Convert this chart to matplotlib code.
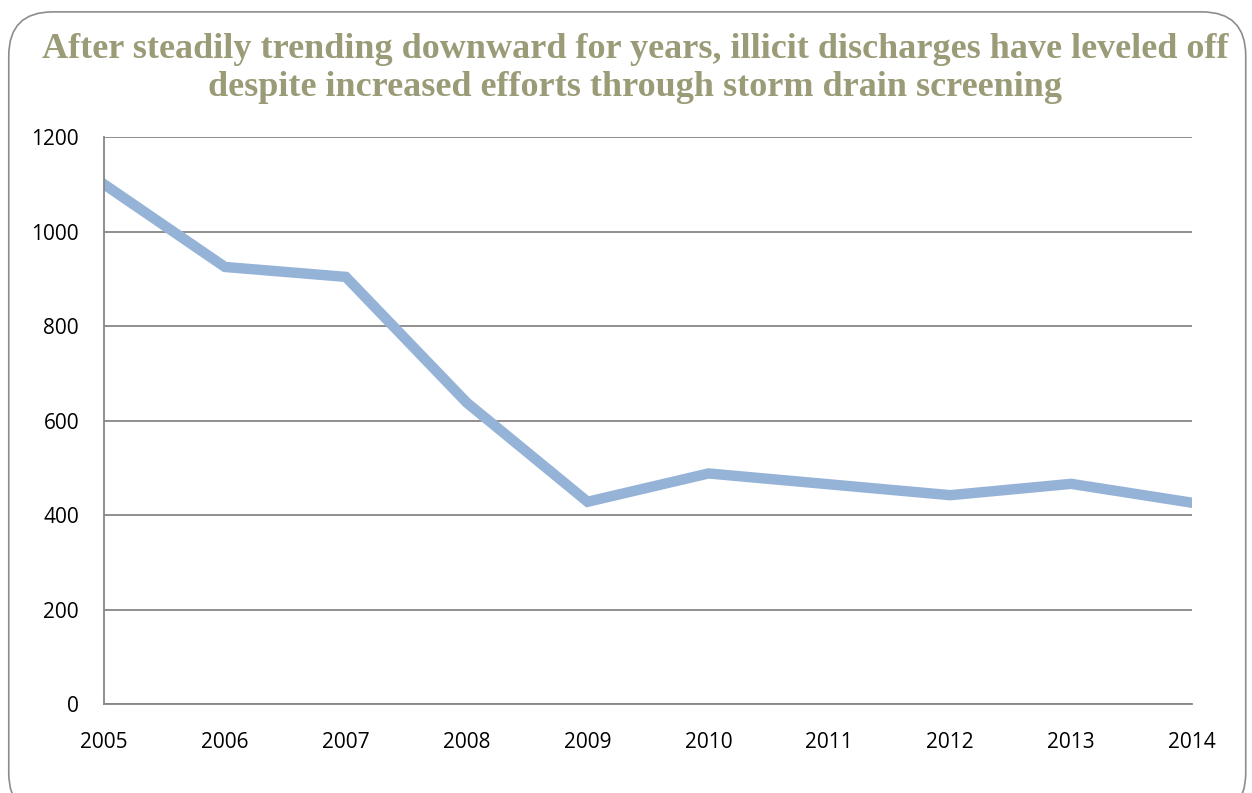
import matplotlib.pyplot as plt
from matplotlib.patches import FancyBboxPatch

years = [2005, 2006, 2007, 2008, 2009, 2010, 2011, 2012, 2013, 2014]
discharges = [1100, 925, 904, 638, 428, 488, 465, 442, 466, 426]
y_ticks = [0, 200, 400, 600, 800, 1000, 1200]

title = ("After steadily trending downward for years, illicit discharges have leveled off\n"
         "despite increased efforts through storm drain screening")

fig = plt.figure(figsize=(12.52, 7.93), dpi=100)

# rounded frame around the whole chart
frame = FancyBboxPatch((0.007, -0.03), 0.988, 1.015,
                       boxstyle="round,pad=0,rounding_size=0.035",
                       transform=fig.transFigure, facecolor='none',
                       edgecolor='#8c8c8c', linewidth=1.2, mutation_aspect=1252 / 793)
fig.patches.append(frame)

fig.text(0.507, 0.914, title, ha='center', va='center', color='#9b9b78',
         fontsize=26, fontweight='bold', family='Liberation Serif', linespacing=1.2)

ax = fig.add_axes([0.0831, 0.1122, 0.8690, 0.7150])
ax.plot(years, discharges, color='#95b3d7', linewidth=7.5, solid_joinstyle='miter')

ax.set_xlim(2005, 2014)
ax.set_ylim(0, 1200)
ax.set_xticks(years)
ax.set_yticks(y_ticks)
ax.grid(axis='y', color='#868686', linewidth=1.3)
ax.set_axisbelow(True)
for side in ['top', 'right']:
    ax.spines[side].set_visible(False)
for side in ['left', 'bottom']:
    ax.spines[side].set_color('#868686')
    ax.spines[side].set_linewidth(1.3)
ax.tick_params(length=0, labelsize=15)
ax.tick_params(axis='x', pad=20)
ax.tick_params(axis='y', pad=18)
for lbl in ax.get_xticklabels() + ax.get_yticklabels():
    lbl.set_family('Open Sans')
ax.patch.set_alpha(0)

fig.savefig('out.png', dpi=100)
